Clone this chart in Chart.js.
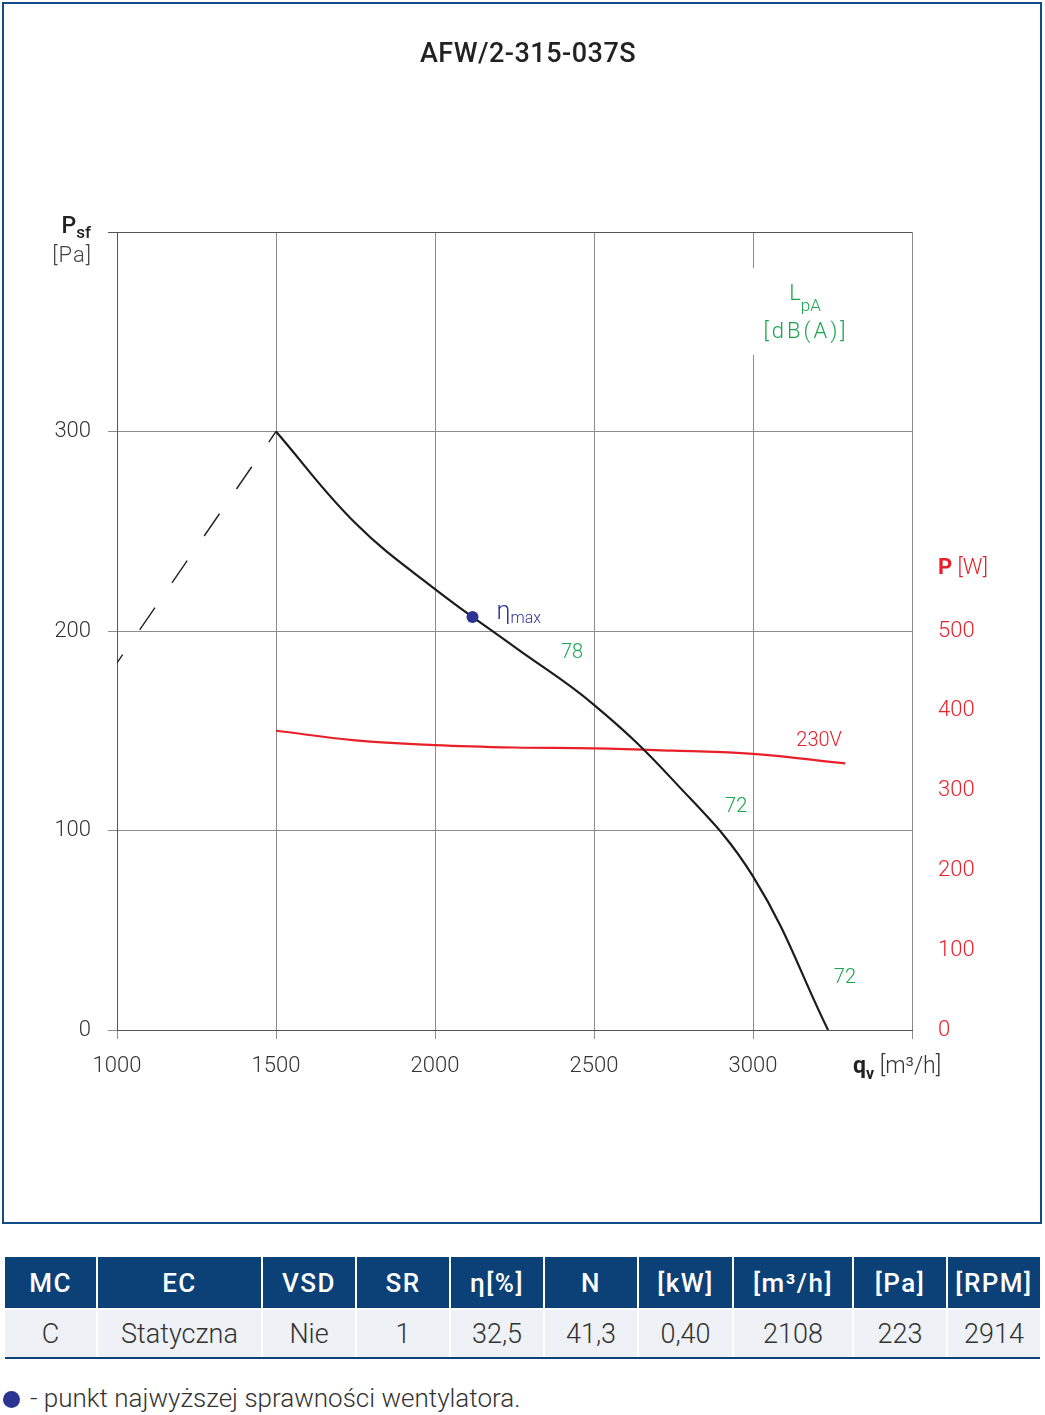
<!DOCTYPE html>
<html lang="pl">
<head>
<meta charset="UTF-8">
<title>AFW/2-315-037S</title>
<script src="https://cdn.jsdelivr.net/npm/chart.js"></script>
<style>
  html, body { margin: 0; padding: 0; background: #fff; }
  body { width: 1045px; height: 1415px; position: relative; font-family: Roboto, "Noto Sans", sans-serif; }
  #chart { position: absolute; left: 0; top: 0; }
  #frame { position: absolute; left: 2px; top: 2px; width: 1040px; height: 1222px; box-sizing: border-box;
           border: 2px solid #114b8a; pointer-events: none; }
  #table { position: absolute; left: 5px; top: 1257px; display: grid;
           grid-template-columns: 91px 163px 92px 92px 92px 92px 93px 118px 92px 92px;
           column-gap: 2px; row-gap: 2px; border-bottom: 2px solid #0c4178; }
  #table div { display: flex; align-items: center; justify-content: center; }
  #table .h { background: #0c4178; color: #fff; font-weight: 500; font-size: 26px; height: 51px; letter-spacing: 1.5px; }
  #table .d { background: #eef1f6; color: #333; font-weight: 300; font-size: 27px; height: 47px; }
  #note { position: absolute; left: 3px; top: 1383px; font-size: 26px; font-weight: 300; color: #333; white-space: nowrap; }
  #note .dot { display: inline-block; width: 17px; height: 17px; border-radius: 50%; background: #2b3493; margin-right: 10px; vertical-align: -1px; }
</style>
</head>
<body>
<canvas id="chart" width="1045" height="1225"></canvas>
<div id="frame"></div>
<div id="table"></div>
<div id="note"><span class="dot"></span>- punkt najwyższej sprawności wentylatora.</div>
<script>
// flow / pressure curve
const qv = [1500, 1750, 2000, 2250, 2500, 2750, 3000, 3236];
const psf = [300, 254, 221, 192, 163, 125, 77, 0];
// unstable (dashed) part
const stallQv = [1000, 1500];
const stallPsf = [184, 300];
// power input [W]
const powerQv = [1500, 1750, 2000, 2250, 2500, 2750, 3000, 3290];
const power = [375, 363, 357, 354, 353, 350, 346, 334];
// max efficiency point
const etaQv = [2118];
const etaPsf = [207];
// noise labels
const lpaLabels = ['78', '72', '72'];
const lpaQv = [2431, 2947, 3289];
const lpaPsf = [189, 112, 26];

const tableHead = ['MC', 'EC', 'VSD', 'SR', 'η[%]', 'N', '[kW]', '[m³/h]', '[Pa]', '[RPM]'];
const tableRow = ['C', 'Statyczna', 'Nie', '1', '32,5', '41,3', '0,40', '2108', '223', '2914'];

const tbl = document.getElementById('table');
tableHead.forEach(t => { const d = document.createElement('div'); d.className = 'h'; d.textContent = t; tbl.appendChild(d); });
tableRow.forEach(t => { const d = document.createElement('div'); d.className = 'd'; d.textContent = t; tbl.appendChild(d); });

const FONT = 'Roboto';
const GREEN = '#1aa64f';
const RED = '#e8202a';
const NAVY = '#2b3493';

function pts(xs, ys) { return xs.map((x, i) => ({ x: x, y: ys[i] })); }

// draw text pieces one after another, e.g. main letter + subscript
function rich(ctx, parts, x, y, align) {
  let w = 0;
  parts.forEach(p => { ctx.font = p.font; w += ctx.measureText(p.t).width; });
  let cx = align === 'right' ? x - w : align === 'center' ? x - w / 2 : x;
  ctx.textAlign = 'left';
  ctx.textBaseline = 'alphabetic';
  parts.forEach(p => {
    ctx.font = p.font;
    ctx.fillStyle = p.color;
    ctx.fillText(p.t, cx, y + (p.dy || 0));
    cx += ctx.measureText(p.t).width;
  });
}

const labels = {
  id: 'labels',
  afterDraw(chart) {
    const ctx = chart.ctx;
    const x = chart.scales.x, y = chart.scales.y;
    ctx.save();

    // title
    ctx.font = '500 27px ' + FONT;
    ctx.fillStyle = '#222';
    ctx.textAlign = 'center';
    ctx.textBaseline = 'middle';
    ctx.letterSpacing = '0.5px';
    ctx.fillText('AFW/2-315-037S', 528, 55);
    ctx.letterSpacing = '0px';

    // left axis title
    rich(ctx, [
      { t: 'P', font: '500 23px ' + FONT, color: '#222' },
      { t: 'sf', font: '500 17px ' + FONT, color: '#222', dy: 5 }
    ], 91, 233, 'right');
    ctx.font = '300 22px ' + FONT;
    ctx.fillStyle = '#444';
    ctx.textAlign = 'right';
    ctx.textBaseline = 'middle';
    ctx.letterSpacing = '1px';
    ctx.fillText('[Pa]', 92, 256);
    ctx.letterSpacing = '0px';

    // x axis title
    rich(ctx, [
      { t: 'q', font: 'bold 23px ' + FONT, color: '#222' },
      { t: 'v', font: 'bold 16px ' + FONT, color: '#222', dy: 6 },
      { t: ' [m³/h]', font: '300 23px ' + FONT, color: '#333' }
    ], 853, 1073, 'left');

    // right axis title
    rich(ctx, [
      { t: 'P', font: 'bold 22px ' + FONT, color: RED },
      { t: ' [W]', font: '300 22px ' + FONT, color: RED }
    ], 938, 574, 'left');

    // LpA legend, with a gap in the 3000 gridline
    ctx.fillStyle = '#fff';
    ctx.fillRect(x.getPixelForValue(3000) - 3, 268, 6, 87);
    rich(ctx, [
      { t: 'L', font: '300 22px ' + FONT, color: GREEN },
      { t: 'pA', font: '300 17px ' + FONT, color: GREEN, dy: 11 }
    ], 805, 300, 'center');
    ctx.font = '300 22px ' + FONT;
    ctx.fillStyle = GREEN;
    ctx.textAlign = 'center';
    ctx.textBaseline = 'middle';
    ctx.letterSpacing = '3px';
    ctx.fillText('[dB(A)]', 806, 332);
    ctx.letterSpacing = '0px';

    // noise values along the curve
    ctx.font = '300 20px ' + FONT;
    lpaLabels.forEach((t, i) => {
      ctx.fillText(t, x.getPixelForValue(lpaQv[i]), y.getPixelForValue(lpaPsf[i]));
    });

    // voltage label
    ctx.fillStyle = RED;
    ctx.fillText('230V', x.getPixelForValue(3208), y.getPixelForValue(145));

    // eta max label
    rich(ctx, [
      { t: 'η', font: '300 25px ' + FONT, color: NAVY },
      { t: 'max', font: '300 16px ' + FONT, color: NAVY, dy: 4 }
    ], x.getPixelForValue(etaQv[0]) + 24, y.getPixelForValue(etaPsf[0]) + 2, 'left');

    ctx.restore();
  }
};

new Chart(document.getElementById('chart'), {
  type: 'line',
  data: {
    datasets: [
      {
        data: pts(etaQv, etaPsf), yAxisID: 'y', showLine: false,
        pointRadius: 6, pointBackgroundColor: NAVY, pointBorderWidth: 0
      },
      {
        data: pts(qv, psf), yAxisID: 'y', borderColor: '#1c1c1c', borderWidth: 2.2,
        pointRadius: 0, tension: 0.4
      },
      {
        data: pts(stallQv, stallPsf), yAxisID: 'y', borderColor: '#222', borderWidth: 1.4,
        borderDash: [27, 30], borderDashOffset: 17, pointRadius: 0
      },
      {
        data: pts(powerQv, power), yAxisID: 'y2', borderColor: RED, borderWidth: 2.2,
        pointRadius: 0, tension: 0.4
      }
    ]
  },
  options: {
    responsive: false,
    animation: false,
    events: [],
    layout: { padding: { top: 232, left: 0, right: 0, bottom: 0 } },
    plugins: { legend: { display: false }, tooltip: { enabled: false } },
    scales: {
      x: {
        type: 'linear', min: 1000, max: 3500,
        afterFit: s => { s.height = 195; },
        ticks: {
          stepSize: 500, padding: 14, color: '#333', maxRotation: 0,
          font: { family: FONT, size: 22, weight: '300' },
          callback: v => (v <= 3000 ? v : '')
        },
        grid: { color: '#8c8c8c', tickLength: 9, lineWidth: 1 },
        border: { color: '#555', width: 1 }
      },
      y: {
        position: 'left', min: 0, max: 400,
        afterFit: s => { s.width = 117; },
        ticks: {
          stepSize: 100, padding: 17, color: '#333',
          font: { family: FONT, size: 22, weight: '300' },
          callback: v => (v < 400 ? v : '')
        },
        grid: {
          tickLength: 9, lineWidth: 1,
          color: c => (c.tick && (c.tick.value === 400) ? '#555' : '#8c8c8c')
        },
        border: { color: '#555', width: 1 }
      },
      y2: {
        position: 'right', min: 0, max: 1000,
        afterFit: s => { s.width = 133; },
        ticks: {
          stepSize: 100, padding: 26, color: RED,
          font: { family: FONT, size: 22, weight: '300' },
          callback: v => (v <= 500 ? v : '')
        },
        grid: { display: false, drawTicks: false },
        border: { display: false }
      }
    }
  },
  plugins: [labels]
});
</script>
</body>
</html>
